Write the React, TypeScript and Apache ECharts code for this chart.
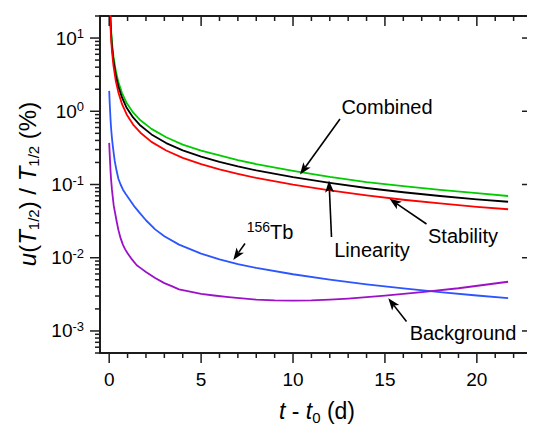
import React, { useEffect, useRef } from 'react';
import * as echarts from 'echarts';

// time since t0 (days)
const T_MAIN = [0.04, 0.07, 0.1, 0.15, 0.23, 0.36, 0.5, 0.7, 0.95, 1.3, 1.7, 2.3, 3.1, 4, 5, 6, 7, 8, 10, 12, 14, 16, 18, 20, 21.7];
// relative uncertainties (%)
const COMBINED = [33.9, 19.2, 13.3, 8.81, 5.65, 3.54, 2.51, 1.77, 1.295, 0.963, 0.753, 0.575, 0.442, 0.351, 0.29, 0.249, 0.216, 0.19, 0.154, 0.127, 0.108, 0.0949, 0.0843, 0.076, 0.0697];
const LINEARITY = [30, 17, 11.8, 7.73, 4.96, 3.08, 2.18, 1.53, 1.116, 0.823, 0.638, 0.483, 0.368, 0.2925, 0.24, 0.204, 0.177, 0.156, 0.126, 0.105, 0.0896, 0.0784, 0.0697, 0.0628, 0.0581];
const STABILITY = [26.1, 14.8, 10.1, 6.65, 4.22, 2.59, 1.81, 1.25, 0.904, 0.658, 0.51, 0.382, 0.291, 0.231, 0.19, 0.161, 0.14, 0.123, 0.0995, 0.083, 0.0708, 0.0619, 0.0551, 0.0496, 0.0459];

const T_TB = [0, 0.025, 0.05, 0.075, 0.1, 0.15, 0.2, 0.3, 0.4, 0.5, 0.62, 0.75, 0.9, 1.04, 1.4, 1.67, 2, 2.5, 3, 3.8, 5, 6, 7, 8, 10, 12, 14, 16, 18, 20, 21.7];
const TB156 = [1.9, 1.35, 1.0, 0.76, 0.6, 0.43, 0.33, 0.21, 0.155, 0.12, 0.1, 0.085, 0.074, 0.066, 0.049, 0.0407, 0.0325, 0.0244, 0.0197, 0.0151, 0.0114, 0.0095, 0.0082, 0.00725, 0.00595, 0.00503, 0.00434, 0.00381, 0.00339, 0.00305, 0.00281];

const T_BG = [0, 0.025, 0.05, 0.075, 0.1, 0.15, 0.2, 0.25, 0.32, 0.4, 0.5, 0.62, 0.75, 0.87, 1, 1.25, 1.5, 1.75, 2, 2.5, 3, 3.4, 3.8, 4.4, 5, 5.7, 6.5, 8, 9, 10, 11, 12, 13, 15, 17, 19, 21.7];
const BACKGROUND = [0.37, 0.27, 0.2, 0.15, 0.12, 0.085, 0.065, 0.051, 0.041, 0.032, 0.024, 0.0185, 0.015, 0.013, 0.0115, 0.0094, 0.0079, 0.0071, 0.0064, 0.0053, 0.0045, 0.0041, 0.0037, 0.00345, 0.0032, 0.00305, 0.0029, 0.00268, 0.00261, 0.00259, 0.00261, 0.00268, 0.00277, 0.00303, 0.00338, 0.00383, 0.0047];

// axis ticks
const X_MAJOR_TICKS = [0, 5, 10, 15, 20];
const X_MINOR_TICKS = [1, 2, 3, 4, 6, 7, 8, 9, 11, 12, 13, 14, 16, 17, 18, 19, 21, 22];
const Y_MAJOR_TICKS = [1e-3, 1e-2, 1e-1, 1, 10];
const Y_MINOR_TICKS = [
  5e-4, 6e-4, 7e-4, 8e-4, 9e-4,
  2e-3, 3e-3, 4e-3, 5e-3, 6e-3, 7e-3, 8e-3, 9e-3,
  2e-2, 3e-2, 4e-2, 5e-2, 6e-2, 7e-2, 8e-2, 9e-2,
  0.2, 0.3, 0.4, 0.5, 0.6, 0.7, 0.8, 0.9,
  2, 3, 4, 5, 6, 7, 8, 9,
  20,
];

const FONT = '"Liberation Sans", Arial, Helvetica, sans-serif';
const AXIS_COLOR = '#1c1c1c';

function zip(xs: number[], ys: number[]) {
  return xs.map((x, i) => [x, ys[i]]);
}

function arrow(x1: number, y1: number, x2: number, y2: number) {
  const dx = x2 - x1;
  const dy = y2 - y1;
  const L = Math.hypot(dx, dy);
  const ux = dx / L;
  const uy = dy / L;
  const px = -uy;
  const py = ux;
  const headLen = 12;
  const headW = 4.5;
  const notch = 3;
  const bx = x2 - ux * headLen;
  const by = y2 - uy * headLen;
  const nx = x2 - ux * (headLen - notch);
  const ny = y2 - uy * (headLen - notch);
  return [
    {
      type: 'line',
      shape: { x1, y1, x2: nx, y2: ny },
      style: { stroke: '#000', lineWidth: 1.6 },
      z: 100,
    },
    {
      type: 'polygon',
      shape: {
        points: [
          [x2, y2],
          [bx + px * headW, by + py * headW],
          [nx, ny],
          [bx - px * headW, by - py * headW],
        ],
      },
      style: { fill: '#000' },
      z: 100,
    },
  ];
}

function label(text: string, x: number, y: number, fontSize = 20, rich?: any, rotation = 0) {
  return {
    type: 'text',
    x,
    y,
    rotation,
    z: 100,
    style: {
      text,
      fill: '#000',
      fontSize,
      fontFamily: FONT,
      align: 'center',
      verticalAlign: 'middle',
      textAlign: 'center',
      textVerticalAlign: 'middle',
      rich,
    },
  };
}

export default function App() {
  const ref = useRef<HTMLDivElement>(null);

  useEffect(() => {
    if (!ref.current) return;
    const chart = echarts.init(ref.current, null, { renderer: 'svg' });

    const tickData: number[][] = [];
    X_MAJOR_TICKS.forEach((v) => tickData.push([v, 1, 1, 0]));
    X_MINOR_TICKS.forEach((v) => tickData.push([v, 1, 0, 0]));
    Y_MAJOR_TICKS.forEach((v) => tickData.push([0, v, 1, 1]));
    Y_MINOR_TICKS.forEach((v) => tickData.push([0, v, 0, 1]));

    const lineSeries = (name: string, data: number[][], color: string) => ({
      name,
      type: 'line',
      data,
      showSymbol: false,
      symbol: 'none',
      smooth: false,
      clip: true,
      lineStyle: { color, width: 1.8, join: 'round' },
      z: 5,
    });

    const subRich = (size: number, sub: number) => ({
      n: { fontSize: size, fontFamily: FONT, color: '#000', lineHeight: size + 4 },
      i: { fontSize: size, fontFamily: FONT, fontStyle: 'italic', color: '#000', lineHeight: size + 4 },
      sub: { fontSize: sub, fontFamily: FONT, color: '#000', lineHeight: sub, verticalAlign: 'bottom' },
      sup: { fontSize: sub, fontFamily: FONT, color: '#000', lineHeight: sub, verticalAlign: 'top' },
    });

    const option: any = {
      animation: false,
      backgroundColor: '#fff',
      grid: {
        left: 100,
        top: 16,
        right: 1,
        bottom: 80,
        show: true,
        borderColor: AXIS_COLOR,
        borderWidth: 2,
        backgroundColor: 'transparent',
      },
      xAxis: {
        type: 'value',
        min: -0.5,
        max: 23,
        minInterval: 5,
        maxInterval: 5,
        axisLine: { show: false },
        axisTick: { show: false },
        splitLine: { show: false },
        axisLabel: {
          margin: 17,
          fontSize: 19,
          fontFamily: FONT,
          color: '#000',
          formatter: (v: number) => (Math.abs(v % 5) < 1e-9 ? String(v) : ''),
        },
      },
      yAxis: {
        type: 'log',
        logBase: 10,
        min: 5e-4,
        max: 20,
        axisLine: { show: false },
        axisTick: { show: false },
        splitLine: { show: false },
        axisLabel: {
          margin: 16,
          fontFamily: FONT,
          color: '#000',
          formatter: (v: number) => {
            const e = Math.round(Math.log10(v));
            const p = Math.pow(10, e);
            if (Math.abs(v - p) / p > 1e-6) return '';
            return `{b|10}{s|${e}}`;
          },
          rich: {
            b: { fontSize: 19, fontFamily: FONT, color: '#000', lineHeight: 22 },
            s: { fontSize: 13, fontFamily: FONT, color: '#000', lineHeight: 13, verticalAlign: 'top' },
          },
        },
      },
      series: [
        lineSeries('Combined', zip(T_MAIN, COMBINED), '#00cc00'),
        lineSeries('Linearity', zip(T_MAIN, LINEARITY), '#000000'),
        lineSeries('Stability', zip(T_MAIN, STABILITY), '#ff0000'),
        lineSeries('156Tb', zip(T_TB, TB156), '#2b55ff'),
        lineSeries('Background', zip(T_BG, BACKGROUND), '#9c10c8'),
        {
          type: 'custom',
          silent: true,
          clip: false,
          z: 20,
          data: tickData,
          renderItem: (params: any, api: any) => {
            const cs = params.coordSys;
            const kind = api.value(3);
            const major = api.value(2);
            const pt = api.coord([api.value(0), api.value(1)]);
            const len = major ? 10 : 5;
            const shapes: any[] = [];
            if (kind === 0) {
              const x = pt[0];
              shapes.push({ x1: x, y1: cs.y + cs.height, x2: x, y2: cs.y + cs.height + len });
              shapes.push({ x1: x, y1: cs.y, x2: x, y2: cs.y + len });
            } else {
              const y = pt[1];
              shapes.push({ x1: cs.x - len, y1: y, x2: cs.x, y2: y });
              shapes.push({ x1: cs.x + cs.width - len, y1: y, x2: cs.x + cs.width, y2: y });
            }
            return {
              type: 'group',
              children: shapes.map((shape) => ({
                type: 'line',
                shape,
                style: { stroke: AXIS_COLOR, lineWidth: 1.5 },
              })),
            };
          },
        },
      ],
      graphic: {
        elements: [
          label('{i|t}{n| - }{i|t}{sub|0}{n| (d)}', 317, 411, 23, subRich(23, 15)),
          label('{i|u}{n|(}{i|T}{sub|1/2}{n|) / }{i|T}{sub|1/2}{n| (%)}', 27, 184, 24, subRich(24, 15), Math.PI / 2),
          label('Combined', 387, 107, 20),
          label('Linearity', 372, 250, 20),
          label('Stability', 463, 236, 20),
          label('{sup|156}{n|Tb}', 270, 232, 20, subRich(20, 14)),
          label('Background', 463, 333, 20),
          ...arrow(340, 119, 300, 174.5),
          ...arrow(331.5, 237, 329, 180.5),
          ...arrow(426.5, 224, 389.5, 198.8),
          ...arrow(245, 243.5, 233.3, 260),
          ...arrow(406.5, 321.5, 388.3, 298.3),
        ],
      },
    };

    chart.setOption(option);
    return () => chart.dispose();
  }, []);

  return <div ref={ref} style={{ width: 535, height: 433, margin: -8 }} />;
}
